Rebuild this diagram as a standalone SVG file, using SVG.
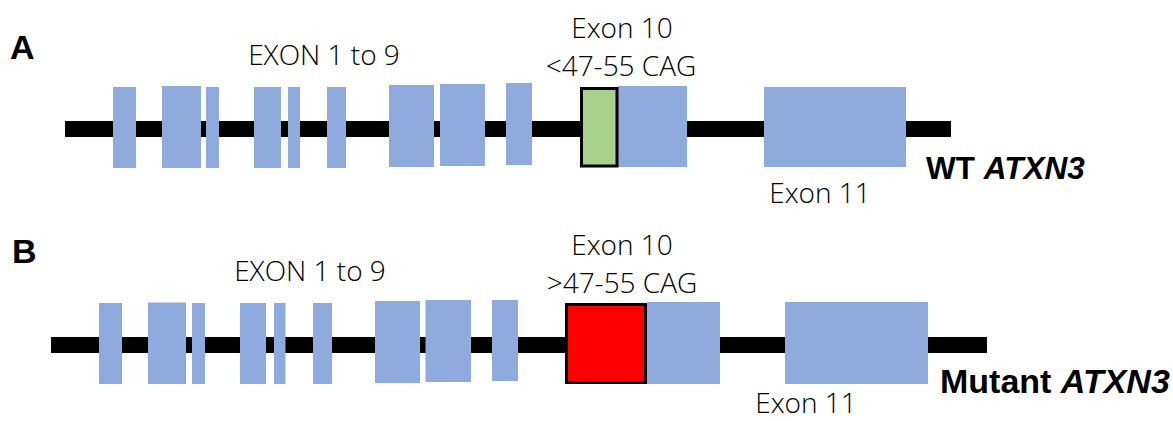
<svg xmlns="http://www.w3.org/2000/svg" width="1173" height="421" viewBox="0 0 1173 421">
  <style>
    .intron { fill: #000000; }
    .exon { fill: #8FAADC; }
    .cag-wt { fill: #A9D18E; stroke: #000000; stroke-width: 3; }
    .cag-mut { fill: #FF0000; stroke: #000000; stroke-width: 3; }
    .label { font-family: "Open Sans", "Liberation Sans", Arial, sans-serif; font-weight: 300; font-size: 28px; fill: #000000; text-anchor: middle; }
    .panel { font-family: "Liberation Sans", Arial, sans-serif; font-weight: bold; font-size: 34px; fill: #000000; }
    .gene { font-family: "Liberation Sans", Arial, sans-serif; font-weight: bold; fill: #000000; }
  </style>

  <rect x="0" y="0" width="1173" height="421" fill="#FFFFFF"/>

  <!-- Panel A: wild-type ATXN3 gene -->
  <g id="panel-a">
    <text class="panel" x="10" y="59">A</text>
    <rect class="intron" x="65" y="121" width="886" height="16"/>
    <g id="a-exons-1-9">
      <rect class="exon" x="113" y="87" width="23" height="81"/>
      <rect class="exon" x="162" y="86" width="39" height="82"/>
      <rect class="exon" x="206" y="87" width="13" height="81"/>
      <rect class="exon" x="254" y="87" width="27" height="81"/>
      <rect class="exon" x="288" y="87" width="12" height="81"/>
      <rect class="exon" x="327" y="87" width="19" height="81"/>
      <rect class="exon" x="389" y="85" width="45" height="82"/>
      <rect class="exon" x="440" y="84" width="45" height="82"/>
      <rect class="exon" x="506" y="83" width="26" height="82"/>
    </g>
    <g id="a-exon-10">
      <rect class="exon" x="618" y="86" width="69" height="81"/>
      <rect class="cag-wt" x="581.5" y="88.5" width="35.5" height="77.5"/>
    </g>
    <g id="a-exon-11">
      <rect class="exon" x="764" y="87" width="142" height="80"/>
    </g>
    <text class="label" x="324" y="65">EXON 1 to 9</text>
    <text class="label" x="622" y="37.5">Exon 10</text>
    <text class="label" x="621" y="76">&lt;47-55 CAG</text>
    <text class="label" x="820" y="203">Exon 11</text>
    <text class="gene" x="926" y="179" font-size="31.5px">WT <tspan font-style="italic">ATXN3</tspan></text>
  </g>

  <!-- Panel B: mutant ATXN3 gene with expanded CAG repeat -->
  <g id="panel-b">
    <text class="panel" x="12" y="263">B</text>
    <rect class="intron" x="51" y="337" width="936" height="16"/>
    <g id="b-exons-1-9">
      <rect class="exon" x="99" y="303" width="23" height="81"/>
      <rect class="exon" x="148" y="302.5" width="38" height="81.5"/>
      <rect class="exon" x="192" y="303" width="13" height="81"/>
      <rect class="exon" x="240" y="303" width="26" height="81"/>
      <rect class="exon" x="274" y="303" width="11.5" height="81"/>
      <rect class="exon" x="313" y="303" width="19" height="81"/>
      <rect class="exon" x="375" y="301" width="45" height="82"/>
      <rect class="exon" x="425.5" y="300" width="45.5" height="82"/>
      <rect class="exon" x="492" y="300" width="26" height="81"/>
    </g>
    <g id="b-exon-10">
      <rect class="exon" x="647" y="302" width="73" height="82"/>
      <rect class="cag-mut" x="566.5" y="304.5" width="79" height="78"/>
    </g>
    <g id="b-exon-11">
      <rect class="exon" x="785" y="302" width="143" height="82"/>
    </g>
    <text class="label" x="310" y="281">EXON 1 to 9</text>
    <text class="label" x="622" y="255">Exon 10</text>
    <text class="label" x="622" y="292.5">&gt;47-55 CAG</text>
    <text class="label" x="806" y="413">Exon 11</text>
    <text class="gene" x="940" y="393" font-size="34px">Mutant <tspan font-style="italic">ATXN3</tspan></text>
  </g>
</svg>
